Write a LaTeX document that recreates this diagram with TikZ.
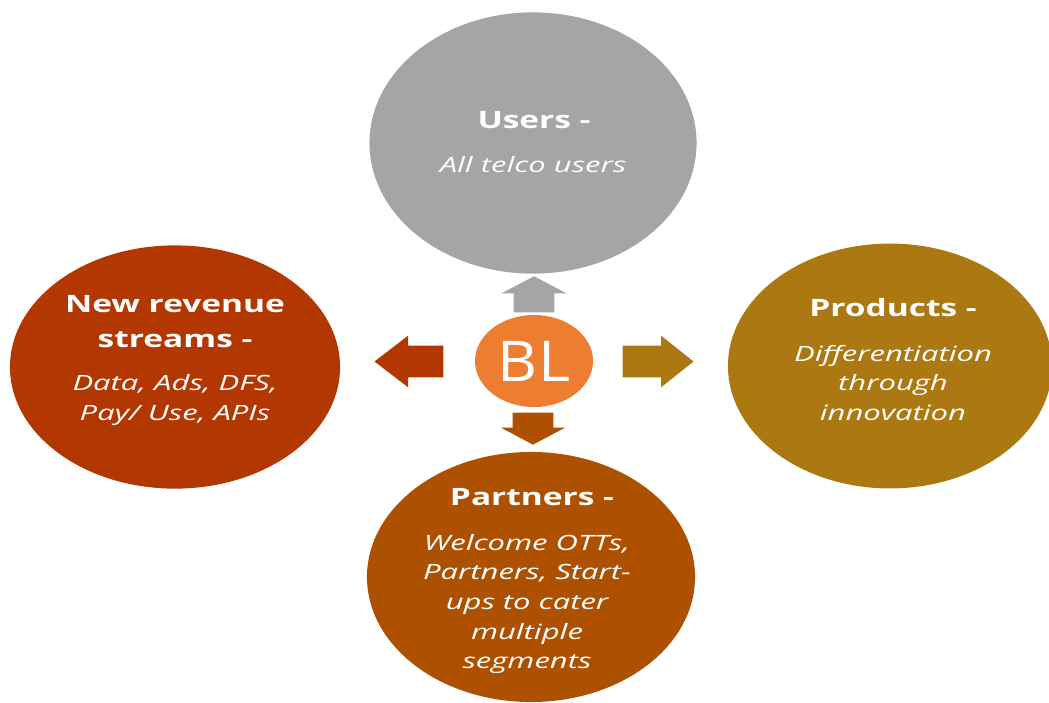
\documentclass[tikz,border=0pt]{standalone}
\usepackage{fontspec}
\setmainfont{Open Sans}
\newfontfamily\widefont[FakeStretch=1.4]{Open Sans}
\newfontfamily\slantfont[FakeStretch=1.47]{Open Sans}
\newfontfamily\blfont[FakeStretch=1.1]{Open Sans}
\usetikzlibrary{shapes.geometric,shapes.arrows}

\definecolor{usergray}{HTML}{A5A5A5}
\definecolor{revred}{HTML}{B23700}
\definecolor{prodgold}{HTML}{AC7812}
\definecolor{partbrown}{HTML}{AD5100}
\definecolor{blorange}{HTML}{ED7D31}

\tikzset{
  blob/.style={ellipse,inner sep=0pt},
  blk/.style={single arrow,anchor=tip,draw=none},
  ttl/.style={text=white,align=center,font={\widefont\bfseries\fontsize{17}{25}\selectfont}},
  txt/.style={text=white,align=center,font={\slantfont\itshape\fontsize{15}{21}\selectfont}}
}

\begin{document}
\begin{tikzpicture}[x=0.025cm,y=-0.025cm]

        \clip (0,0) rectangle (1049,702);

        \begin{scope}[every node/.style={blob}]
          \node[fill=usergray,  minimum width=8.175cm,minimum height=6.53cm] (users)    at (533,143) {};
          \node[fill=revred,    minimum width=8.25cm, minimum height=6.08cm] (revenue)  at (175,367) {};
          \node[fill=prodgold,  minimum width=8.1cm,  minimum height=6.12cm] (products) at (890,366) {};
          \node[fill=partbrown, minimum width=8.2cm,  minimum height=6.25cm] (partners) at (531,577) {};
          \node[fill=blorange,  minimum width=2.95cm, minimum height=2.3cm, text=white,
                font={\blfont\fontsize{40}{48}\selectfont}] (bl) at (534,361) {BL};
        \end{scope}

        \begin{scope}[every node/.style={blk}]
          \node[fill=usergray, shape border rotate=90, inner xsep=0.5cm, inner ysep=0pt, minimum height=0.9cm,
                single arrow head extend=0.3125cm, single arrow tip angle=125] (toup) at (534,276) {};
          \node[fill=revred, shape border rotate=180, inner xsep=0pt, inner ysep=0.3875cm, minimum height=1.725cm,
                single arrow head extend=0.25cm, single arrow tip angle=75] (toleft) at (374,361.5) {};
          \node[fill=prodgold, shape border rotate=0, inner xsep=0pt, inner ysep=0.3875cm, minimum height=1.775cm,
                single arrow head extend=0.25cm, single arrow tip angle=77] (toright) at (694,361.5) {};
          \node[fill=partbrown, shape border rotate=270, inner xsep=0.5cm, inner ysep=0pt, minimum height=0.8cm,
                single arrow head extend=0.3cm, single arrow tip angle=124] (todown) at (533,445) {};
        \end{scope}

        \node[ttl] (userst) at (534,120) {Users -};
        \node[txt] (usersb) at (533,165) {All telco users};

        \node[ttl] (revenuet) at (175,322) {New revenue\\streams -};
        \node[txt] (revenueb) at (175,400) {Data, Ads, DFS,\\Pay/ Use, APIs};

        \node[ttl] (productst) at (893,308) {Products -};
        \node[txt] (productsb) at (893,383) {Differentiation\\through\\innovation};

        \node[ttl] (partnerst) at (532,497) {Partners -};
        \node[txt] (partnersb) at (527,604) {Welcome OTTs,\\Partners, Start-\\ups to cater\\multiple\\segments};

      \end{tikzpicture}
\end{document}
